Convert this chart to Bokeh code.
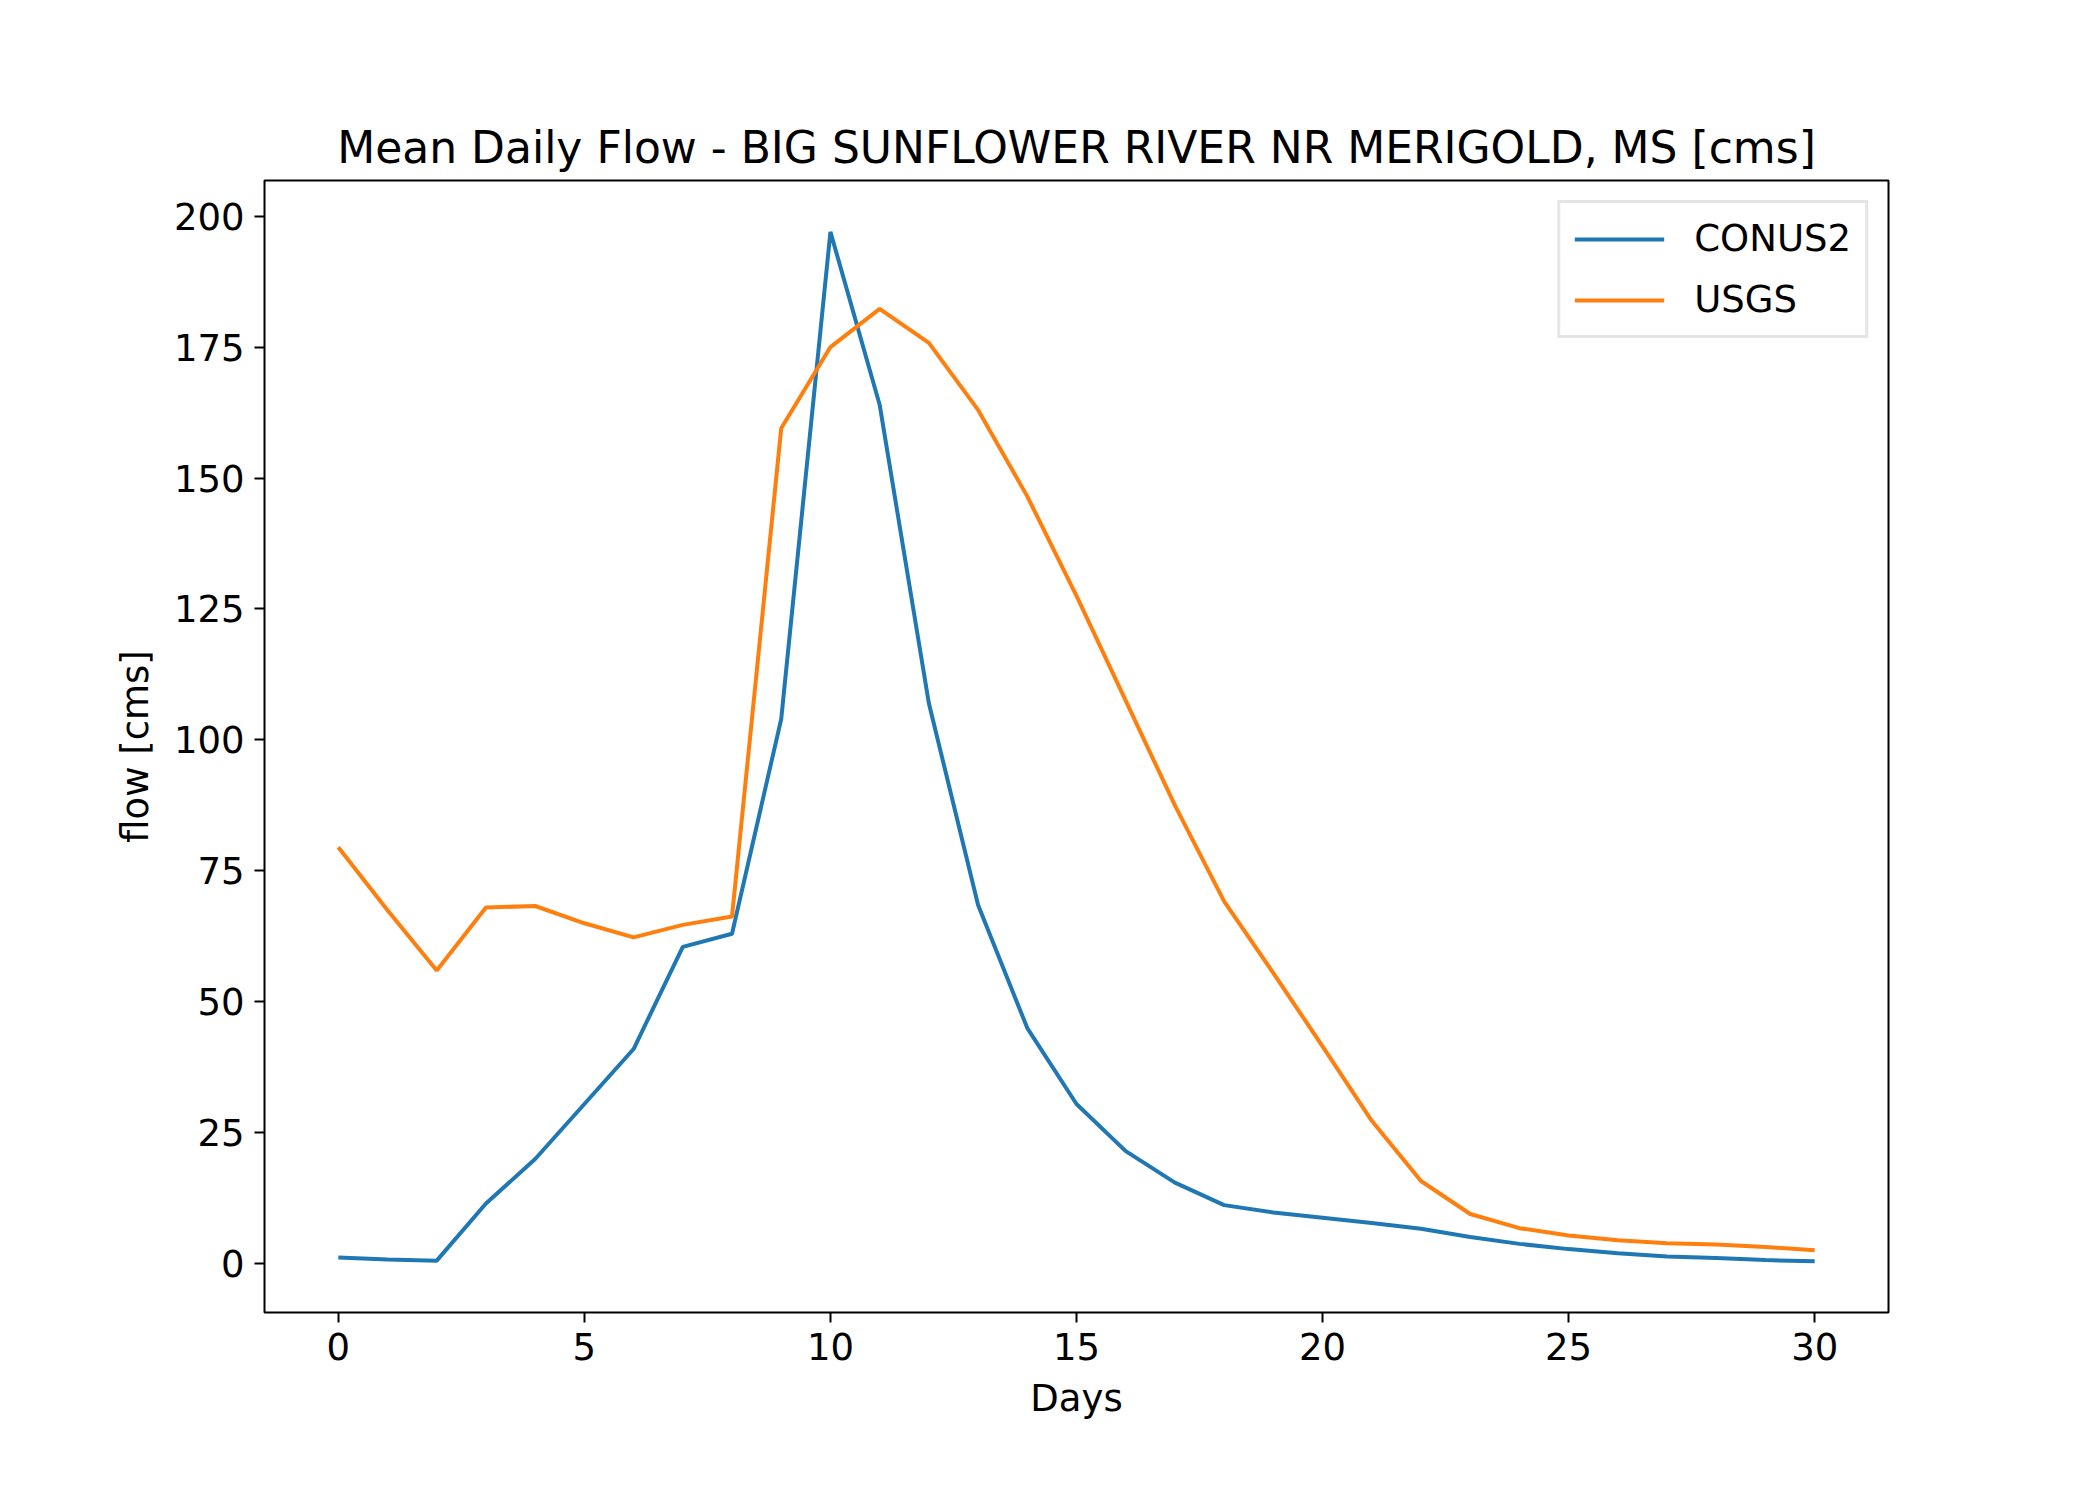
from bokeh.plotting import figure
from bokeh.models import Range1d, FixedTicker, Legend, LegendItem
from bokeh.embed import file_html
from bokeh.resources import INLINE

days = list(range(31))
conus2 = [1.2, 0.8, 0.6, 11.5, 20, 30.5, 41, 60.5, 63, 104, 197, 164, 107, 68.5, 45, 30.5,
          21.5, 15.5, 11.2, 9.8, 8.8, 7.8, 6.7, 5.1, 3.8, 2.8, 2.0, 1.4, 1.1, 0.7, 0.5]
usgs = [79.5, 67.5, 56, 68, 68.3, 65, 62.3, 64.7, 66.3, 159.5, 175, 182.3, 175.8, 163, 146.5,
        127.5, 107.5, 87.5, 69.2, 55.5, 41.5, 27.3, 15.8, 9.5, 6.8, 5.4, 4.5, 3.9, 3.7, 3.2, 2.6]
x_ticks = [0, 5, 10, 15, 20, 25, 30]
y_ticks = [0, 25, 50, 75, 100, 125, 150, 175, 200]

F = "DejaVu Sans"
p = figure(width=2080, height=1480, output_backend="svg", toolbar_location=None,
           x_range=Range1d(-1.5, 31.5), y_range=Range1d(-9.3, 206.8),
           min_border_left=264, min_border_right=192, min_border_top=180, min_border_bottom=168,
           title="Mean Daily Flow - BIG SUNFLOWER RIVER NR MERIGOLD, MS [cms]")
p.title.text_font = F
p.title.text_font_size = "44px"
p.title.text_font_style = "normal"
p.title.text_color = "black"
p.title.align = "center"
p.title.offset = 0
p.title.standoff = 16
p.grid.visible = False
p.outline_line_color = "black"
p.outline_line_width = 2
for ax, lab in ((p.xaxis, "Days"), (p.yaxis, "flow [cms]")):
    ax.axis_label = lab
    ax.axis_label_text_font = F
    ax.axis_label_text_font_size = "37px"
    ax.axis_label_text_font_style = "normal"
    ax.axis_label_text_color = "black"
    ax.axis_label_standoff = 14
    ax.major_label_text_font = F
    ax.major_label_text_font_size = "37px"
    ax.major_label_text_color = "black"
    ax.major_label_standoff = 10
    ax.axis_line_color = None
    ax.major_tick_line_width = 2
    ax.major_tick_out = 10
    ax.major_tick_in = 0
    ax.minor_tick_line_color = None
p.xaxis.ticker = FixedTicker(ticks=x_ticks)
p.yaxis.ticker = FixedTicker(ticks=y_ticks)

r1 = p.line(days, conus2, line_color="#1f77b4", line_width=4)
r2 = p.line(days, usgs, line_color="#ff7f0e", line_width=4)
leg = Legend(items=[LegendItem(label="CONUS2", renderers=[r1]), LegendItem(label="USGS", renderers=[r2])],
             location="top_right", label_text_font=F, label_text_font_size="37px",
             label_text_color="black",
             border_line_color="#cccccc", border_line_width=3, margin=20, padding=14,
             spacing=18, glyph_width=90, label_standoff=30)
p.add_layout(leg)

open("out.html", "w").write(file_html(p, INLINE))
